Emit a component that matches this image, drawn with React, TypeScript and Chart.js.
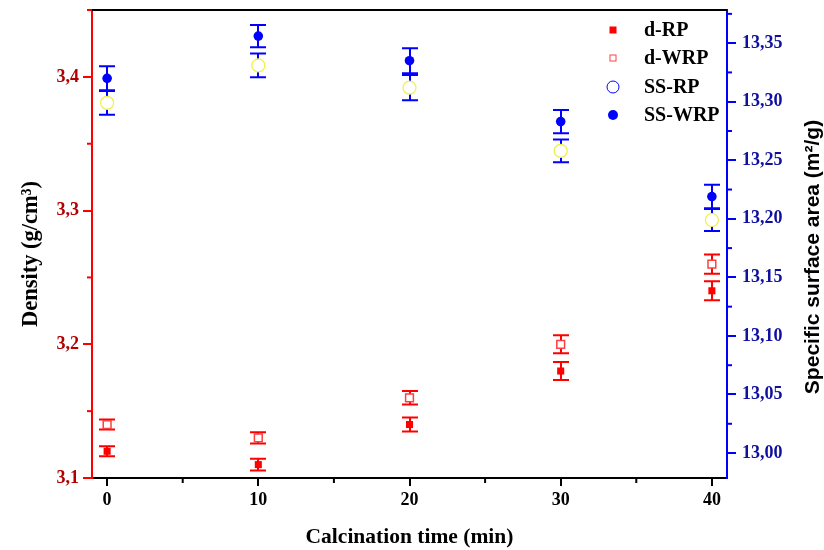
import React, { useEffect, useRef } from 'react';
import { Chart, registerables } from 'chart.js';

Chart.register(...registerables);

// ---- data ----
const times = [0, 10, 20, 30, 40];
const dRP = [3.12, 3.11, 3.14, 3.18, 3.24];
const dRPErr = [0.0038, 0.0044, 0.0052, 0.0067, 0.0071];
const dWRP = [3.14, 3.13, 3.16, 3.2, 3.26];
const dWRPErr = [0.0038, 0.0042, 0.0051, 0.0067, 0.0072];
const ssRP = [13.299, 13.331, 13.312, 13.258, 13.199];
const ssRPErr = [0.0102, 0.0102, 0.0107, 0.0097, 0.0094];
const ssWRP = [13.32, 13.356, 13.335, 13.283, 13.219];
const ssWRPErr = [0.0102, 0.0095, 0.0107, 0.01, 0.01];

// ---- ticks ----
const xTicks = [0, 10, 20, 30, 40];
const xMinorTicks = [5, 15, 25, 35];
const densityTicks = [3.1, 3.2, 3.3, 3.4];
const densityMinorTicks = [3.15, 3.25, 3.35, 3.45];
const areaTicks = [13.0, 13.05, 13.1, 13.15, 13.2, 13.25, 13.3, 13.35];
const areaMinorTicks = [13.025, 13.075, 13.125, 13.175, 13.225, 13.275, 13.325, 13.375];

const legendLabels = ['d-RP', 'd-WRP', 'SS-RP', 'SS-WRP'];
const xTitle = 'Calcination time (min)';
const leftTitle = 'Density (g/cm\u00B3)';
const rightTitle = 'Specific surface area (m\u00B2/g)';

const SERIF = "'Liberation Serif', 'Times New Roman', serif";
const SANS = "'Liberation Sans', Arial, sans-serif";

const errMap: Record<number, { err: number[]; color: string; axis: string; vals: number[] }> = {
  0: { err: dRPErr, color: '#ff0000', axis: 'yD', vals: dRP },
  1: { err: dWRPErr, color: '#ff0000', axis: 'yD', vals: dWRP },
  2: { err: ssRPErr, color: '#0000ff', axis: 'yS', vals: ssRP },
  3: { err: ssWRPErr, color: '#0000ff', axis: 'yS', vals: ssWRP },
};

const errorBarPlugin = {
  id: 'errorBars',
  beforeDatasetsDraw(chart: any) {
    const ctx = chart.ctx;
    const xs = chart.scales.x;
    ctx.save();
    Object.keys(errMap).forEach((k) => {
      const e = errMap[Number(k)];
      const ys = chart.scales[e.axis];
      ctx.strokeStyle = e.color;
      ctx.lineWidth = 2;
      times.forEach((t, i) => {
        const x = Math.round(xs.getPixelForValue(t));
        const y1 = ys.getPixelForValue(e.vals[i] + e.err[i]);
        const y2 = ys.getPixelForValue(e.vals[i] - e.err[i]);
        ctx.beginPath();
        ctx.moveTo(x, y1);
        ctx.lineTo(x, y2);
        ctx.moveTo(x - 8, y1);
        ctx.lineTo(x + 8, y1);
        ctx.moveTo(x - 8, y2);
        ctx.lineTo(x + 8, y2);
        ctx.stroke();
      });
    });
    ctx.restore();
  },
};

const decorPlugin = {
  id: 'decor',
  afterDraw(chart: any) {
    const ctx = chart.ctx;
    const { left, right, top, bottom } = chart.chartArea;
    const xs = chart.scales.x;
    const yD = chart.scales.yD;
    const yS = chart.scales.yS;
    ctx.save();
    // top border
    ctx.strokeStyle = '#000';
    ctx.lineWidth = 2;
    ctx.beginPath();
    ctx.moveTo(left, top);
    ctx.lineTo(right, top);
    ctx.stroke();
    // minor ticks
    ctx.lineWidth = 2;
    ctx.strokeStyle = '#ff0000';
    densityMinorTicks.forEach((v) => {
      const y = yD.getPixelForValue(v);
      ctx.beginPath();
      ctx.moveTo(left - 5, y);
      ctx.lineTo(left, y);
      ctx.stroke();
    });
    ctx.strokeStyle = '#0000ff';
    areaMinorTicks.forEach((v) => {
      const y = yS.getPixelForValue(v);
      ctx.beginPath();
      ctx.moveTo(right, y);
      ctx.lineTo(right + 5, y);
      ctx.stroke();
    });
    ctx.strokeStyle = '#000';
    xMinorTicks.forEach((v) => {
      const x = xs.getPixelForValue(v);
      ctx.beginPath();
      ctx.moveTo(x, bottom);
      ctx.lineTo(x, bottom + 5);
      ctx.stroke();
    });

    // axis titles
    ctx.fillStyle = '#000';
    ctx.font = `bold 21.5px ${SERIF}`;
    ctx.textAlign = 'center';
    ctx.textBaseline = 'alphabetic';
    ctx.fillText(xTitle, (left + right) / 2, 543);

    ctx.save();
    ctx.translate(37, 254);
    ctx.rotate(-Math.PI / 2);
    ctx.font = `bold 22.5px ${SERIF}`;
    ctx.fillText(leftTitle, 0, 0);
    ctx.restore();

    ctx.save();
    ctx.translate(819, 257);
    ctx.rotate(-Math.PI / 2);
    ctx.font = `bold 21px ${SANS}`;
    ctx.fillText(rightTitle, 0, 0);
    ctx.restore();

    // legend
    const rows = [30, 58, 87, 115];
    const mx = 613;
    const tx = 644;
    ctx.font = `bold 20px ${SERIF}`;
    ctx.textAlign = 'left';
    ctx.textBaseline = 'middle';
    legendLabels.forEach((lab, i) => {
      const y = rows[i];
      ctx.lineWidth = 1;
      if (i === 0) {
        ctx.fillStyle = '#ff0000';
        ctx.fillRect(mx - 3.5, y - 3.5, 7, 7);
      } else if (i === 1) {
        ctx.strokeStyle = '#ff4040';
        ctx.strokeRect(mx - 3, y - 3, 6, 6);
      } else if (i === 2) {
        ctx.strokeStyle = '#0000ff';
        ctx.beginPath();
        ctx.arc(mx, y, 6, 0, Math.PI * 2);
        ctx.stroke();
      } else {
        ctx.fillStyle = '#0000ff';
        ctx.beginPath();
        ctx.arc(mx, y, 5, 0, Math.PI * 2);
        ctx.fill();
      }
      ctx.fillStyle = '#000';
      ctx.fillText(lab, tx, y + 1);
    });
    ctx.restore();
  },
};

const pts = (vals: number[]) => times.map((t, i) => ({ x: t, y: vals[i] }));

const zeroPad = (s: any) => {
  s.paddingTop = 0;
  s.paddingBottom = 0;
  s.paddingLeft = 0;
  s.paddingRight = 0;
};

export default function App() {
  const ref = useRef<HTMLCanvasElement | null>(null);
  useEffect(() => {
    if (!ref.current) return;
    const chart = new Chart(ref.current, {
      type: 'scatter',
      data: {
        datasets: [
          {
            label: legendLabels[0],
            data: pts(dRP),
            yAxisID: 'yD',
            pointStyle: 'rect',
            pointRadius: 5,
            backgroundColor: '#ff0000',
            borderColor: '#ff0000',
            borderWidth: 0,
          },
          {
            label: legendLabels[1],
            data: pts(dWRP),
            yAxisID: 'yD',
            pointStyle: 'rect',
            pointRadius: 5.5,
            backgroundColor: '#ffffff',
            borderColor: '#ff4040',
            borderWidth: 1.5,
          },
          {
            label: legendLabels[2],
            data: pts(ssRP),
            yAxisID: 'yS',
            pointStyle: 'circle',
            pointRadius: 6.5,
            backgroundColor: '#ffffff',
            borderColor: '#f0f040',
            borderWidth: 1.2,
          },
          {
            label: legendLabels[3],
            data: pts(ssWRP),
            yAxisID: 'yS',
            pointStyle: 'circle',
            pointRadius: 4.8,
            backgroundColor: '#0000ff',
            borderColor: '#0000ff',
            borderWidth: 0,
          },
        ] as any,
      },
      options: {
        animation: false,
        responsive: true,
        maintainAspectRatio: false,
        layout: { padding: { top: 10, left: 0, right: 0, bottom: 0 } },
        plugins: { legend: { display: false }, tooltip: { enabled: false } },
        scales: {
          x: {
            type: 'linear',
            position: 'bottom',
            min: -1,
            max: 41,
            afterBuildTicks: (s: any) => {
              s.ticks = xTicks.map((v) => ({ value: v }));
            },
            afterFit: (s: any) => {
              s.height = 72;
              zeroPad(s);
            },
            ticks: {
              color: '#000',
              padding: 4,
              font: { family: SERIF, size: 18, weight: 'bold' },
              callback: (v: any) => String(v),
            },
            grid: { display: true, drawOnChartArea: false, drawTicks: true, tickLength: 8, color: '#000', lineWidth: 2 },
            border: { display: true, color: '#000', width: 2 },
          },
          yD: {
            type: 'linear',
            position: 'left',
            min: 3.1,
            max: 3.45,
            afterBuildTicks: (s: any) => {
              s.ticks = densityTicks.map((v) => ({ value: v }));
            },
            afterFit: (s: any) => {
              s.width = 92;
              zeroPad(s);
            },
            ticks: {
              color: '#b00000',
              padding: 4,
              font: { family: SERIF, size: 18, weight: 'bold' },
              callback: (v: any) => Number(v).toFixed(1).replace('.', ','),
            },
            grid: { display: true, drawOnChartArea: false, drawTicks: true, tickLength: 9, color: '#ff0000', lineWidth: 2 },
            border: { display: true, color: '#ff0000', width: 2 },
          },
          yS: {
            type: 'linear',
            position: 'right',
            min: 12.9787,
            max: 13.3783,
            afterBuildTicks: (s: any) => {
              s.ticks = areaTicks.map((v) => ({ value: v }));
            },
            afterFit: (s: any) => {
              s.width = 97;
              zeroPad(s);
            },
            ticks: {
              color: '#1010a0',
              padding: 6,
              font: { family: SERIF, size: 18, weight: 'bold' },
              callback: (v: any) => Number(v).toFixed(2).replace('.', ','),
            },
            grid: { display: true, drawOnChartArea: false, drawTicks: true, tickLength: 9, color: '#0000ff', lineWidth: 2 },
            border: { display: true, color: '#0000ff', width: 2 },
          },
        } as any,
      },
      plugins: [errorBarPlugin, decorPlugin],
    });
    return () => chart.destroy();
  }, []);
  return (
    <div style={{ position: 'absolute', left: 0, top: 0, width: 824, height: 550 }}>
      <canvas ref={ref} />
    </div>
  );
}
